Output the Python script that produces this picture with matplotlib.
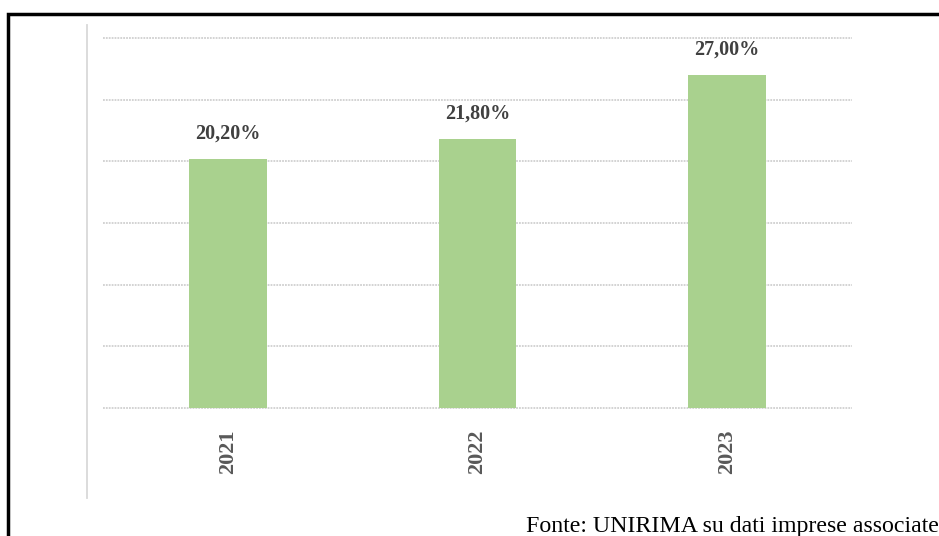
import matplotlib
matplotlib.use("Agg")
import matplotlib.pyplot as plt
from matplotlib.lines import Line2D

years = ["2021", "2022", "2023"]
values = [20.2, 21.8, 27.0]
labels = ["20,20%", "21,80%", "27,00%"]
yticks = [0, 5, 10, 15, 20, 25, 30]
source = "Fonte: UNIRIMA su dati imprese associate"

W, H = 939, 536
fig = plt.figure(figsize=(W / 100, H / 100), dpi=100)
fig.patch.set_facecolor("white")

# axes placement in pixels
x0, x1 = 103, 852
y_top, y_base = 38, 408
ax = fig.add_axes([x0 / W, 1 - y_base / H, (x1 - x0) / W, (y_base - y_top) / H])

bar_color = "#a9d18e"
ax.bar(range(len(years)), values, width=0.31, color=bar_color, zorder=3)
ax.set_xlim(-0.5, len(years) - 0.5)
ax.set_ylim(0, 30)

ax.set_yticks(yticks)
ax.yaxis.grid(True, color="#d0d0d0", linewidth=1.3, linestyle=(0, (1, 0.6)), zorder=0)
for gl in ax.get_ygridlines():
    gl.set_clip_on(False)
ax.tick_params(axis="y", left=False, labelleft=False)
for s in ax.spines.values():
    s.set_visible(False)

ax.set_xticks(range(len(years)))
ax.set_xticklabels(years, rotation=90, fontfamily="Liberation Serif",
                   fontweight="bold", fontsize=16, color="#595959")
ax.tick_params(axis="x", bottom=False, pad=12)

for i, (v, lab) in enumerate(zip(values, labels)):
    ax.annotate(lab, (i, v), xytext=(0, 14.5), textcoords="offset points",
                ha="center", va="baseline", fontfamily="Liberation Serif",
                fontweight="bold", fontsize=14.5, color="#404040")

# left vertical light line
fig.add_artist(Line2D([87 / W, 87 / W], [1 - 25 / H, 1 - 498 / H],
                      transform=fig.transFigure, color="#d9d9d9", linewidth=1.3))

# outer frame (left and top)
fig.add_artist(Line2D([7.5 / W, 7.5 / W, 1.0], [0.0, 1 - 14 / H, 1 - 14 / H],
                      transform=fig.transFigure, color="black", linewidth=2.5,
                      solid_joinstyle="miter"))

# source note
fig.text(526 / W, 1 - 532 / H, source, fontfamily="Liberation Serif",
         fontsize=17.2, color="black", ha="left", va="baseline")

fig.savefig("out.png", dpi=100)
